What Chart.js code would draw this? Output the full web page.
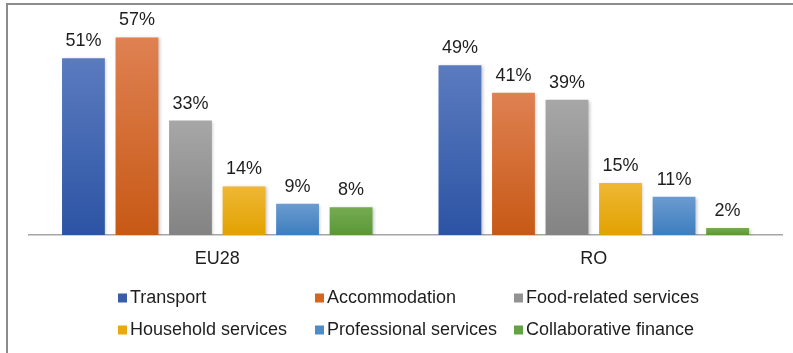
<!DOCTYPE html>
<html>
<head>
<meta charset="utf-8">
<script src="https://cdn.jsdelivr.net/npm/chart.js@4.4.1/dist/chart.umd.min.js"></script>
<style>
  html, body { margin: 0; padding: 0; background: #ffffff; }
  #wrap { position: relative; width: 793px; height: 353px; }
  canvas { display: block; }
</style>
</head>
<body>
<div id="wrap"><canvas id="c" width="793" height="353"></canvas></div>
<script>
// ---- data ----
const categories = ['EU28', 'RO'];
const seriesNames = ['Transport', 'Accommodation', 'Food-related services',
                     'Household services', 'Professional services', 'Collaborative finance'];
const transport    = [51, 49];
const accommodation = [57, 41];
const foodRelated  = [33, 39];
const household    = [14, 15];
const professional = [9, 11];
const finance      = [8, 2];
const seriesValues = [transport, accommodation, foodRelated, household, professional, finance];

// ---- styles ----
const topColors    = ['#5b7bbf', '#df8152', '#a7a7a7', '#efb735', '#6c9bd0', '#75ab52'];
const bottomColors = ['#2c54a4', '#c75915', '#838383', '#e1a200', '#3c7ebf', '#5a9837'];
const legendColors = ['#3a5da8', '#d5651f', '#939393', '#e8aa10', '#4e8bc8', '#64a244'];
const FONT = '"Liberation Sans", Arial, sans-serif';

function barGradient(i) {
  return function (ctx) {
    const chart = ctx.chart;
    const area = chart.chartArea;
    if (!area || ctx.parsed === undefined || !chart.scales.y) return legendColors[i];
    const yTop = chart.scales.y.getPixelForValue(ctx.parsed.y);
    const yBase = chart.scales.y.getPixelForValue(0);
    if (!isFinite(yTop) || Math.abs(yBase - yTop) < 1) return legendColors[i];
    const g = chart.ctx.createLinearGradient(0, yTop, 0, yBase);
    g.addColorStop(0, topColors[i]);
    g.addColorStop(1, bottomColors[i]);
    return g;
  };
}

const datasets = seriesNames.map((name, i) => ({
  label: name,
  data: seriesValues[i],
  backgroundColor: barGradient(i),
  borderWidth: 0,
  categoryPercentage: 0.853,
  barPercentage: 0.80
}));

const framePlugin = {
  id: 'frame',
  beforeDraw(chart) {
    const c = chart.ctx;
    c.save();
    c.fillStyle = '#ffffff';
    c.fillRect(0, 0, chart.width, chart.height);
    c.strokeStyle = '#8c8c8c';
    c.lineWidth = 2;
    c.beginPath();
    c.moveTo(7, chart.height);
    c.lineTo(7, 4);
    c.lineTo(chart.width, 4);
    c.stroke();
    c.restore();
  }
};

const shadowPlugin = {
  id: 'barShadow',
  beforeDatasetsDraw(chart) {
    const c = chart.ctx;
    c.save();
    c.shadowColor = 'rgba(0,0,0,0.22)';
    c.shadowBlur = 3;
    c.shadowOffsetX = 1.5;
    c.shadowOffsetY = 1;
  },
  afterDatasetsDraw(chart) {
    chart.ctx.restore();
  }
};

const labelPlugin = {
  id: 'valueLabels',
  afterDatasetsDraw(chart) {
    const c = chart.ctx;
    c.save();
    c.font = '18px ' + FONT;
    c.fillStyle = '#1e1e1e';
    c.textAlign = 'center';
    c.textBaseline = 'alphabetic';
    chart.data.datasets.forEach((ds, di) => {
      const meta = chart.getDatasetMeta(di);
      meta.data.forEach((bar, j) => {
        c.fillText(ds.data[j] + '%', bar.x, bar.y - 12);
      });
    });
    c.restore();
  }
};

const legendPlugin = {
  id: 'gridLegend',
  afterDraw(chart) {
    const c = chart.ctx;
    const colX = [118, 315, 514];
    const rowY = [298, 330];
    c.save();
    c.font = '18px ' + FONT;
    c.fillStyle = '#1e1e1e';
    c.textAlign = 'left';
    c.textBaseline = 'middle';
    chart.data.datasets.forEach((ds, i) => {
      const x = colX[i % 3];
      const y = rowY[Math.floor(i / 3)];
      c.fillStyle = legendColors[i];
      c.fillRect(x, y - 4.5, 9, 9);
      c.fillStyle = '#1e1e1e';
      c.fillText(ds.label, x + 12, y);
    });
    c.restore();
  }
};

new Chart(document.getElementById('c'), {
  type: 'bar',
  data: { labels: categories, datasets: datasets },
  options: {
    responsive: false,
    animation: false,
    devicePixelRatio: 1,
    layout: { padding: { left: 29, right: 11, top: 27, bottom: 0 } },
    plugins: {
      legend: { display: false },
      tooltip: { enabled: false }
    },
    scales: {
      x: {
        grid: { display: false, drawTicks: false },
        border: { display: true, color: '#a6a6a6', width: 1.5 },
        ticks: { font: { family: FONT, size: 18 }, color: '#1e1e1e', padding: 13 },
        afterFit(scale) { scale.height = 118; }
      },
      y: {
        display: false,
        min: 0,
        max: 60
      }
    }
  },
  plugins: [framePlugin, shadowPlugin, labelPlugin, legendPlugin]
});
</script>
</body>
</html>
